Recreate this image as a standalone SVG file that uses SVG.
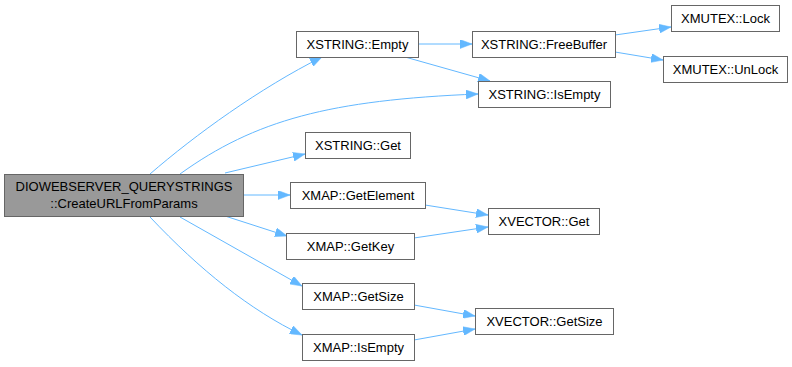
<svg xmlns="http://www.w3.org/2000/svg" width="792" height="367" viewBox="0 0 792 367">
<style>
  .node rect { fill: #ffffff; stroke: #666666; stroke-width: 1; }
  .node.root rect { fill: #999999; }
  .node text { font-family: "Liberation Sans", Arial, sans-serif; font-size: 13px; fill: #000000; text-anchor: middle; }
  .edges path { fill: none; stroke: #63b8ff; stroke-width: 1; }
</style>
<defs>
  <marker id="arrow" viewBox="0 0 12 9" refX="12" refY="4.5" markerWidth="12" markerHeight="9" markerUnits="userSpaceOnUse" orient="auto">
    <path d="M0,0 L12,4.5 L0,9 Z" fill="#63b8ff" stroke="#63b8ff" stroke-width="0.5"/>
  </marker>
</defs>
<rect width="792" height="367" fill="#ffffff"/>

<g class="edges">
  <path d="M150,174 C195,135 260,88 322,57" marker-end="url(#arrow)"/>
  <path d="M180,174 C255,120 330,100 478,94" marker-end="url(#arrow)"/>
  <path d="M225,173 L305,154" marker-end="url(#arrow)"/>
  <path d="M243,195 L290,195" marker-end="url(#arrow)"/>
  <path d="M225,216 L287,236" marker-end="url(#arrow)"/>
  <path d="M180,217 L302,286" marker-end="url(#arrow)"/>
  <path d="M150,217 C200,270 250,310 302,335" marker-end="url(#arrow)"/>
  <path d="M418,44 L472,44" marker-end="url(#arrow)"/>
  <path d="M405,57 L490,81" marker-end="url(#arrow)"/>
  <path d="M615,35 L671,27" marker-end="url(#arrow)"/>
  <path d="M615,52 L663,60" marker-end="url(#arrow)"/>
  <path d="M425,205 L488,215" marker-end="url(#arrow)"/>
  <path d="M414,238 L488,227" marker-end="url(#arrow)"/>
  <path d="M414,305 L475,316" marker-end="url(#arrow)"/>
  <path d="M414,340 L475,329" marker-end="url(#arrow)"/>
</g>

<g id="node-root" class="node root">
  <rect x="4.5" y="174.5" width="239" height="42"/>
  <text x="124" y="191">DIOWEBSERVER_QUERYSTRINGS</text>
  <text x="124" y="208">::CreateURLFromParams</text>
</g>
<g id="node-xstring-empty" class="node">
  <rect x="296.5" y="31.5" width="122" height="26"/>
  <text x="357.5" y="49">XSTRING::Empty</text>
</g>
<g id="node-xstring-freebuffer" class="node">
  <rect x="472.5" y="31.5" width="143" height="26"/>
  <text x="544" y="49">XSTRING::FreeBuffer</text>
</g>
<g id="node-xmutex-lock" class="node">
  <rect x="671.5" y="5.5" width="108" height="26"/>
  <text x="725.5" y="23">XMUTEX::Lock</text>
</g>
<g id="node-xmutex-unlock" class="node">
  <rect x="663.5" y="56.5" width="124" height="26"/>
  <text x="725.5" y="74">XMUTEX::UnLock</text>
</g>
<g id="node-xstring-isempty" class="node">
  <rect x="478.5" y="81.5" width="132" height="26"/>
  <text x="544.5" y="99">XSTRING::IsEmpty</text>
</g>
<g id="node-xstring-get" class="node">
  <rect x="305.5" y="132.5" width="105" height="26"/>
  <text x="358" y="150">XSTRING::Get</text>
</g>
<g id="node-xmap-getelement" class="node">
  <rect x="290.5" y="182.5" width="135" height="26"/>
  <text x="358" y="200">XMAP::GetElement</text>
</g>
<g id="node-xvector-get" class="node">
  <rect x="488.5" y="208.5" width="111" height="26"/>
  <text x="544" y="226">XVECTOR::Get</text>
</g>
<g id="node-xmap-getkey" class="node">
  <rect x="286.5" y="233.5" width="128" height="26"/>
  <text x="350.5" y="251">XMAP::GetKey</text>
</g>
<g id="node-xmap-getsize" class="node">
  <rect x="302.5" y="283.5" width="112" height="26"/>
  <text x="358.5" y="301">XMAP::GetSize</text>
</g>
<g id="node-xvector-getsize" class="node">
  <rect x="475.5" y="308.5" width="138" height="26"/>
  <text x="544.5" y="326">XVECTOR::GetSize</text>
</g>
<g id="node-xmap-isempty" class="node">
  <rect x="302.5" y="334.5" width="112" height="26"/>
  <text x="358.5" y="352">XMAP::IsEmpty</text>
</g>
</svg>
